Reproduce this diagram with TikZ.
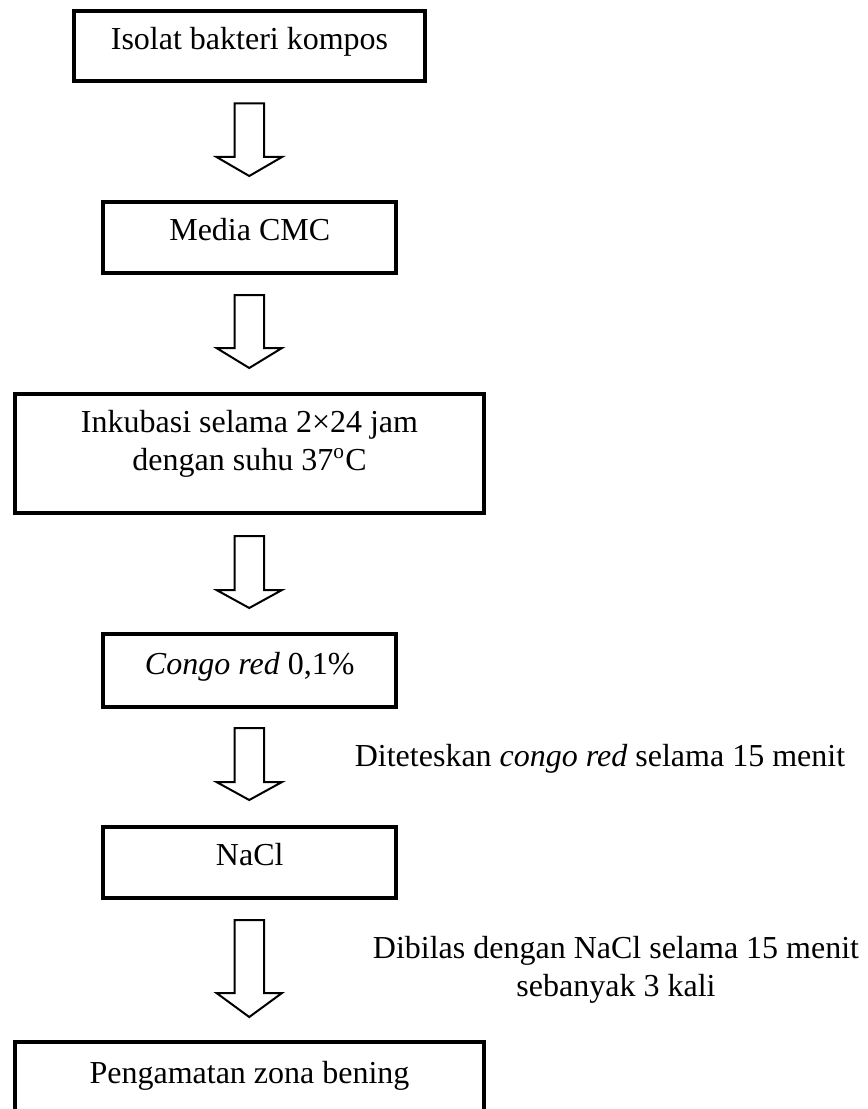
\documentclass[tikz,border=0pt]{standalone}
\usepackage{fontspec}
\setmainfont{Liberation Serif}
\begin{document}
\begin{tikzpicture}[x=0.375pt,y=-0.375pt,
  every node/.style={font=\fontsize{12}{14.25}\selectfont},
  box/.style={draw,line width=1.5pt,rectangle,inner xsep=0pt,inner ysep=0pt,anchor=north,text height=14.6pt},
  blockarr/.style={draw,fill=white,line width=0.75pt,line join=miter},
  note/.style={inner sep=0pt,anchor=base}]
\useasboundingbox (0,0) rectangle (868,1109);

\node[box,minimum width=131.6pt,text depth=11.65pt] (b1) at (249.5,9) {Isolat bakteri kompos};
\node[box,minimum width=109.7pt,text depth=12pt] (b2) at (249.75,200) {Media CMC};
\node[box,minimum width=175.9pt,text height=14.25pt,text depth=30.35pt] (b3) at (249.5,392)
  {\begin{tabular}[t]{@{}c@{}}Inkubasi selama 2×24 jam\\dengan suhu 37\textsuperscript{o}C\end{tabular}};
\node[box,minimum width=109.7pt,text height=15pt,text depth=12.4pt] (b4) at (249.75,632) {\textit{Congo red} 0,1\%};
\node[box,minimum width=109.7pt,text depth=12pt] (b5) at (249.75,825) {NaCl};
\node[box,minimum width=175.9pt,text height=15.4pt,text depth=12.35pt] (b6) at (249.5,1040) {Pengamatan zona bening};

\newcommand\flowarr[3]{%
  \draw[blockarr] (234.5,#1) -- (264,#1) -- (264,#2) -- (282,#2) -- (249.25,#3)
    -- (216.5,#2) -- (234.5,#2) -- cycle;}
\flowarr{103.5}{157}{176}
\flowarr{295}{348}{368}
\flowarr{536}{590}{608}
\flowarr{728}{782}{800}
\flowarr{920}{993}{1017}

\node[note] (n1) at (600,766) {Diteteskan \textit{congo red} selama 15 menit};
\node[note] (n2) at (616,958) {\begin{tabular}[t]{@{}c@{}}Dibilas dengan NaCl selama 15 menit\\sebanyak 3 kali\end{tabular}};
\end{tikzpicture}
\end{document}
